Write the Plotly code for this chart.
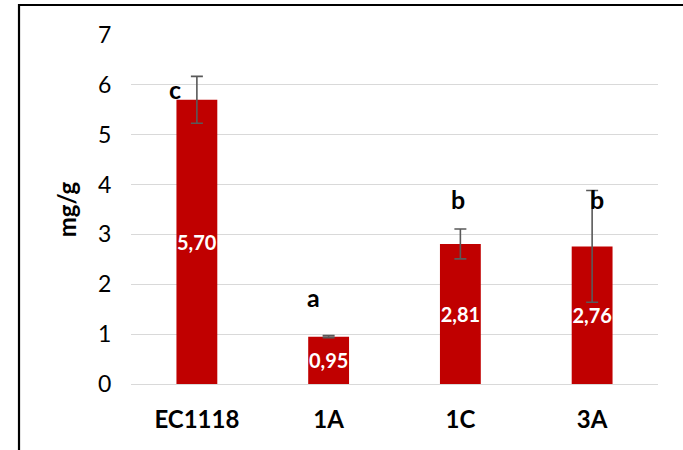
import plotly.graph_objects as go

# Sugar content per yeast strain (mg/g), standard deviations and significance groups
strains = ["EC1118", "1A", "1C", "3A"]
values = [5.70, 0.95, 2.81, 2.76]
errors = [0.47, 0.02, 0.30, 1.12]
groups = ["c", "a", "b", "b"]
group_y = [5.92, 1.74, 3.71, 3.71]
group_dx = [-22, -15, -2, 5]
value_text = [f"{v:.2f}".replace(".", ",") for v in values]

FONT = "Lato"
RED = "#C00000"

fig = go.Figure()
fig.add_trace(go.Bar(
    x=strains,
    y=values,
    width=0.31,
    marker=dict(color=RED, line=dict(width=0)),
    text=value_text,
    textposition="inside",
    insidetextanchor="middle",
    constraintext="none",
    textangle=0,
    textfont=dict(family=FONT, size=20, color="white", weight="bold"),
    error_y=dict(type="data", array=errors, visible=True,
                 color="#595959", thickness=1.6, width=6),
    hoverinfo="skip",
))

for s, g, gy, dx in zip(strains, groups, group_y, group_dx):
    fig.add_annotation(x=s, y=gy, text=g, showarrow=False, xshift=dx,
                       font=dict(family=FONT, size=25, color="black", weight="bold"))

# outer frame of the chart area
fig.add_shape(type="rect", xref="paper", yref="paper",
              x0=-0.2125, x1=1.08, y0=-0.22, y1=1.086,
              line=dict(color="black", width=2.2), fillcolor="rgba(0,0,0,0)")

fig.update_layout(
    width=683, height=450,
    margin=dict(l=131, r=25, t=35, b=66),
    paper_bgcolor="white", plot_bgcolor="white",
    showlegend=False,
    bargap=0.69,
    font=dict(family=FONT, color="black"),
)
fig.update_xaxes(
    showgrid=False, showline=False, zeroline=False,
    ticks="outside", ticklen=14, tickcolor="rgba(0,0,0,0)",
    tickfont=dict(family=FONT, size=24, color="black", weight="bold"),
)
fig.update_yaxes(
    range=[0, 7], dtick=1,
    showgrid=True, gridcolor="#D9D9D9", gridwidth=1.3,
    zeroline=True, zerolinecolor="#D9D9D9", zerolinewidth=1.3,
    showline=False,
    ticks="outside", ticklen=14, tickcolor="rgba(0,0,0,0)",
    tickfont=dict(family=FONT, size=23, color="black"),
    title=dict(text="mg/g", font=dict(family=FONT, size=24, color="black", weight="bold"),
               standoff=14),
)

fig.write_html("out.html")
